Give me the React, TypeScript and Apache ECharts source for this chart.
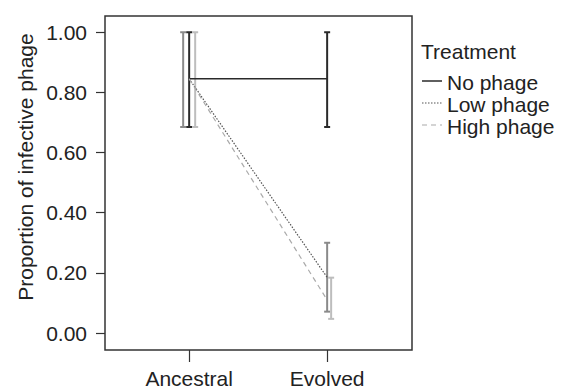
import React, { useEffect, useRef } from "react";
import * as echarts from "echarts";

const categories = ["Ancestral", "Evolved"];
const treatments = ["No phage", "Low phage", "High phage"];
const noPhageMean = [0.845, 0.845];
const lowPhageMean = [0.845, 0.185];
const highPhageMean = [0.845, 0.11];
const noPhageLow = [0.685, 0.685];
const noPhageHigh = [1.0, 1.0];
const lowPhageLow = [0.685, 0.071];
const lowPhageHigh = [1.0, 0.3];
const highPhageLow = [0.685, 0.047];
const highPhageHigh = [1.0, 0.184];
const yTicks = [0, 0.2, 0.4, 0.6, 0.8, 1.0];
const yTitle = "Proportion of infective phage";
const legendTitle = "Treatment";

const FONT = "'Liberation Sans', Arial, sans-serif";
const TXT = "#222";
const FS = 21;

export default function App() {
  const ref = useRef<HTMLDivElement>(null);
  useEffect(() => {
    if (!ref.current) return;
    const chart = echarts.init(ref.current, null, { renderer: "svg" });
    const xPos = categories.map((_, i) => i + 1);
    const means = [noPhageMean, lowPhageMean, highPhageMean];
    const lows = [noPhageLow, lowPhageLow, highPhageLow];
    const highs = [noPhageHigh, lowPhageHigh, highPhageHigh];
    const colorsBar = ["#2a2a2a", "#8a8a8a", "#bdbdbd"];
    const lineStyles: any[] = [
      { color: "#2a2a2a", width: 1.5, type: "solid" },
      { color: "#555", width: 1.2, type: [1.5, 1.5] },
      { color: "#aaa", width: 1.2, type: [5, 4] },
    ];
    // pixel dodge of error bars per treatment, per category
    const dodge = [
      [0, 0],
      [-6, 0],
      [6, 4],
    ];

    const lineSeries = treatments.map((t, ti) => ({
      name: t,
      type: "line",
      data: xPos.map((x, i) => [x, means[ti][i]]),
      symbol: "none",
      lineStyle: lineStyles[ti],
      z: 3,
    }));

    const errSeries = treatments.map((t, ti) => ({
      name: t + " err",
      type: "custom",
      data: xPos.map((x, i) => [x, lows[ti][i], highs[ti][i], i]),
      encode: { x: 0, y: [1, 2] },
      z: 2,
      renderItem: (params: any, api: any) => {
        const x = api.value(0);
        const lo = api.value(1);
        const hi = api.value(2);
        const ci = api.value(3);
        const off = dodge[ti][ci];
        const pHi = api.coord([x, hi]);
        const pLo = api.coord([x, lo]);
        const cx = pHi[0] + off;
        const st = { stroke: colorsBar[ti], lineWidth: 2 };
        return {
          type: "group",
          children: [
            { type: "line", shape: { x1: cx, y1: pHi[1], x2: cx, y2: pLo[1] }, style: st },
            { type: "line", shape: { x1: cx - 3, y1: pHi[1], x2: cx + 3, y2: pHi[1] }, style: st },
            { type: "line", shape: { x1: cx - 3, y1: pLo[1], x2: cx + 3, y2: pLo[1] }, style: st },
          ],
        };
      },
    }));

    const legendYs = [82, 104, 126];
    const legendGraphics: any[] = [
      {
        type: "text",
        x: 421,
        y: 51,
        style: { text: legendTitle, font: `${FS}px ${FONT}`, fill: TXT, verticalAlign: "middle", align: "left" },
      },
    ];
    treatments.forEach((t, ti) => {
      legendGraphics.push({
        type: "line",
        shape: { x1: 422, y1: legendYs[ti] - 1, x2: 442, y2: legendYs[ti] - 1 },
        style: {
          stroke: lineStyles[ti].color,
          lineWidth: lineStyles[ti].width,
          lineDash: ti === 0 ? null : lineStyles[ti].type,
        },
      });
      legendGraphics.push({
        type: "text",
        x: 447,
        y: legendYs[ti],
        style: {
          text: t,
          font: `${FS}px ${FONT}`,
          fill: TXT,
          verticalAlign: "middle",
          align: "left",
        },
      });
    });

    chart.setOption({
      animation: false,
      backgroundColor: "#fff",
      grid: {
        left: 105,
        right: 149,
        top: 16,
        bottom: 40,
        show: true,
        borderColor: "#333",
        borderWidth: 1.5,
        backgroundColor: "transparent",
      },
      xAxis: {
        type: "value",
        min: 0.39,
        max: 2.615,
        splitLine: { show: false },
        axisLine: { show: false, onZero: false },
        axisTick: {
          show: true,
          length: 12,
          customValues: xPos,
          lineStyle: { color: "#333", width: 1.2 },
        },
        axisLabel: {
          customValues: xPos,
          formatter: (v: number) => categories[Math.round(v) - 1] ?? "",
          margin: 18,
          fontSize: FS,
          fontFamily: FONT,
          color: TXT,
        },
      },
      yAxis: {
        type: "value",
        min: -0.0565,
        max: 1.054,
        splitLine: { show: false },
        axisLine: { show: false, onZero: false },
        axisTick: {
          show: true,
          length: 9,
          customValues: yTicks,
          lineStyle: { color: "#333", width: 1.2 },
        },
        axisLabel: {
          customValues: yTicks,
          formatter: (v: number) => v.toFixed(2),
          margin: 18,
          fontSize: FS,
          fontFamily: FONT,
          color: TXT,
        },
      },
      graphic: [
        {
          type: "text",
          x: 25,
          y: 167,
          rotation: Math.PI / 2,
          style: {
            text: yTitle,
            font: `${FS}px ${FONT}`,
            fill: TXT,
            align: "center",
            verticalAlign: "middle",
          },
        },
        ...legendGraphics,
      ],
      series: [...errSeries, ...lineSeries],
    });
    return () => chart.dispose();
  }, []);
  return (
    <div
      ref={ref}
      style={{ position: "fixed", left: 0, top: 0, width: 561, height: 390, background: "#fff" }}
    />
  );
}
